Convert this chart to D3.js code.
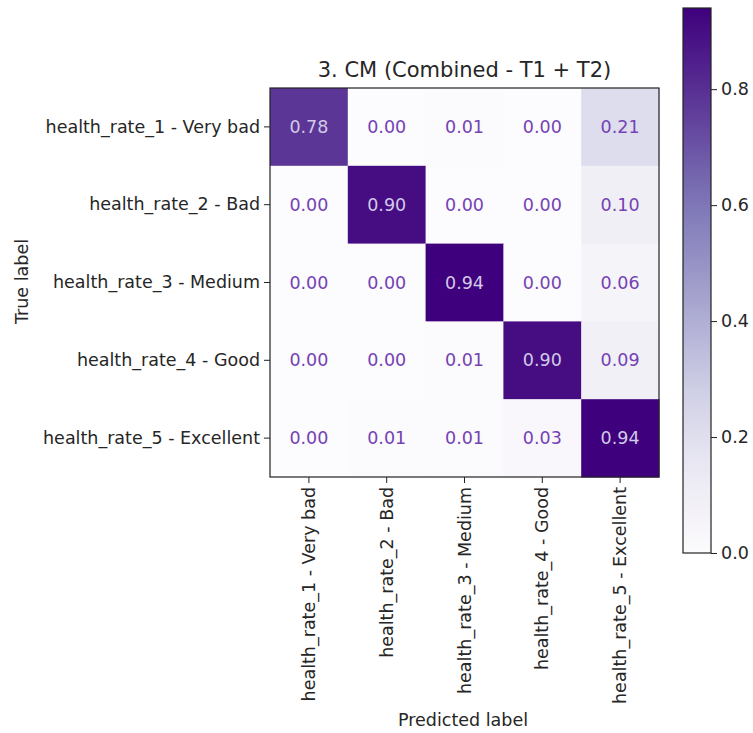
<!DOCTYPE html>
<html>
<head>
<meta charset="utf-8">
<script src="https://cdn.jsdelivr.net/npm/d3@7"></script>
<style>
  body { margin: 0; background: #fff; }
  text { font-family: "DejaVu Sans", sans-serif; fill: #262626; }
</style>
</head>
<body>
<div id="chart"></div>
<script>
// class labels (same for true and predicted)
const labels = [
    "health_rate_1 - Very bad",
    "health_rate_2 - Bad",
    "health_rate_3 - Medium",
    "health_rate_4 - Good",
    "health_rate_5 - Excellent"
];

// normalized confusion matrix, rows = true label, cols = predicted label
const row1 = [0.78, 0.00, 0.01, 0.00, 0.21];
const row2 = [0.00, 0.90, 0.00, 0.00, 0.10];
const row3 = [0.00, 0.00, 0.94, 0.00, 0.06];
const row4 = [0.00, 0.00, 0.01, 0.90, 0.09];
const row5 = [0.00, 0.01, 0.01, 0.03, 0.94];
const matrix = [row1, row2, row3, row4, row5];

const colorbarTicks = [0.0, 0.2, 0.4, 0.6, 0.8];

const svgAttr = { width: 753, height: 733 };
const plot = { left: 270, top: 88, size: 389 };
const cbar = { left: 683, top: 8, width: 28, bottom: 553 };
const fontSize = "17.5px";

const svg = d3.select("#chart")
              .append("svg")
              .attr("width", svgAttr.width)
              .attr("height", svgAttr.height);

const vmax = d3.max(matrix.flat());
const color = d3.scaleSequential(d3.interpolatePurples).domain([0, vmax]);

const x = d3.scaleBand().domain(d3.range(labels.length))
            .range([plot.left, plot.left + plot.size]);
const y = d3.scaleBand().domain(d3.range(labels.length))
            .range([plot.top, plot.top + plot.size]);

// cells
const cells = [];
matrix.forEach((row, i) => row.forEach((v, j) => cells.push({ i, j, v })));

svg.append("g")
   .selectAll("rect")
   .data(cells)
   .join("rect")
   .attr("x", d => x(d.j))
   .attr("y", d => y(d.i))
   .attr("width", x.bandwidth() + 0.5)
   .attr("height", y.bandwidth() + 0.5)
   .attr("fill", d => color(d.v));

svg.append("g")
   .selectAll("text")
   .data(cells)
   .join("text")
   .attr("x", d => x(d.j) + x.bandwidth() / 2)
   .attr("y", d => y(d.i) + y.bandwidth() / 2)
   .attr("text-anchor", "middle")
   .attr("dominant-baseline", "central")
   .style("font-size", fontSize)
   .style("fill", d => d.v > vmax / 2 ? "#d2c9e8" : "#7442b4")
   .text(d => d.v.toFixed(2));

// frame
svg.append("rect")
   .attr("x", plot.left)
   .attr("y", plot.top)
   .attr("width", plot.size)
   .attr("height", plot.size)
   .attr("fill", "none")
   .attr("stroke", "#222")
   .attr("stroke-width", 1.2);

// axes
const xAxis = d3.axisBottom(x).tickSize(6).tickPadding(3).tickFormat(i => labels[i]);
const yAxis = d3.axisLeft(y).tickSize(6).tickPadding(4).tickFormat(i => labels[i]);

const gx = svg.append("g")
   .attr("transform", `translate(0,${plot.top + plot.size})`)
   .call(xAxis);
gx.select(".domain").remove();
gx.selectAll("line").attr("stroke", "#222");
gx.selectAll("text")
  .style("font-size", fontSize)
  .attr("text-anchor", "end")
  .attr("dy", "0.35em")
  .attr("transform", "rotate(-90)")
  .attr("x", -10)
  .attr("y", 0);

const gy = svg.append("g")
   .attr("transform", `translate(${plot.left},0)`)
   .call(yAxis);
gy.select(".domain").remove();
gy.selectAll("line").attr("stroke", "#222");
gy.selectAll("text").style("font-size", fontSize);

// title and axis labels
svg.append("text")
   .attr("x", plot.left + plot.size / 2)
   .attr("y", 77)
   .attr("text-anchor", "middle")
   .style("font-size", "21px")
   .text("3. CM (Combined - T1 + T2)");

svg.append("text")
   .attr("x", 463)
   .attr("y", 726)
   .attr("text-anchor", "middle")
   .style("font-size", fontSize)
   .text("Predicted label");

svg.append("text")
   .attr("transform", `translate(28,${plot.top + plot.size / 2 - 1}) rotate(-90)`)
   .attr("text-anchor", "middle")
   .style("font-size", fontSize)
   .text("True label");

// colorbar
const cy = d3.scaleLinear().domain([0, vmax]).range([cbar.bottom, cbar.top]);

const grad = svg.append("defs")
   .append("linearGradient")
   .attr("id", "cbarGrad")
   .attr("x1", 0).attr("y1", 1)
   .attr("x2", 0).attr("y2", 0);
d3.range(0, 1.0001, 0.05).forEach(t => {
    grad.append("stop")
        .attr("offset", t)
        .attr("stop-color", color(t * vmax));
});

svg.append("rect")
   .attr("x", cbar.left)
   .attr("y", cbar.top)
   .attr("width", cbar.width)
   .attr("height", cbar.bottom - cbar.top)
   .attr("fill", "url(#cbarGrad)")
   .attr("stroke", "#222")
   .attr("stroke-width", 1.2);

const gc = svg.append("g")
   .attr("transform", `translate(${cbar.left + cbar.width},0)`)
   .call(d3.axisRight(cy).tickValues(colorbarTicks).tickSize(6).tickPadding(4).tickFormat(d3.format(".1f")));
gc.select(".domain").remove();
gc.selectAll("line").attr("stroke", "#222");
gc.selectAll("text").style("font-size", fontSize);
</script>
</body>
</html>
